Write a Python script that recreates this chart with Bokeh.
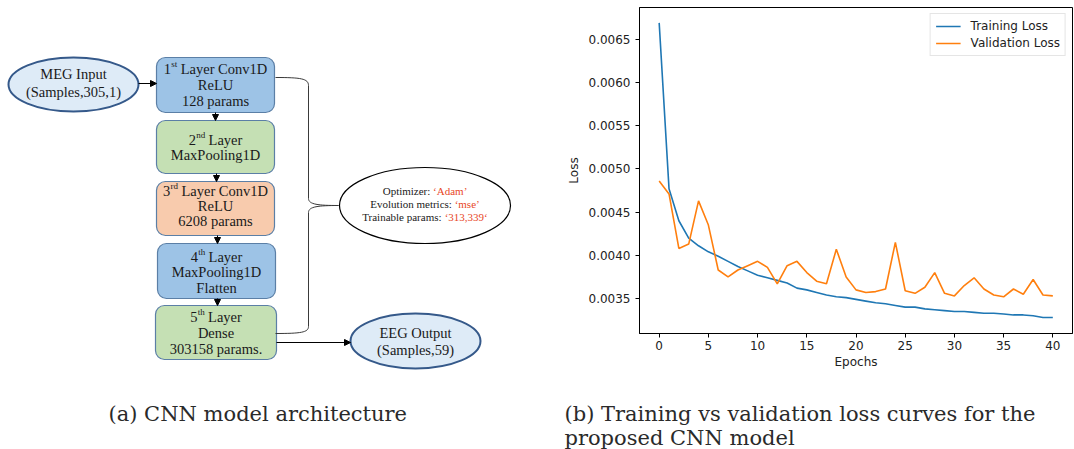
from bokeh.plotting import figure
from bokeh.models import (Range1d, Arrow, NormalHead, FixedTicker,
                          PrintfTickFormatter, Legend, LegendItem)
from bokeh.layouts import row, column
from bokeh.embed import file_html
from bokeh.resources import INLINE
from bokeh.core.properties import value

# ---------------- loss history ----------------
epochs = list(range(41))
train_loss = [0.00669, 0.00477, 0.00440, 0.00420, 0.00411, 0.00404, 0.00399, 0.00393,
              0.00387, 0.00382, 0.00377, 0.00374, 0.00371, 0.00368, 0.00362,
              0.00360, 0.00357, 0.00354, 0.00352, 0.00351, 0.00349, 0.00347, 0.00345,
              0.00344, 0.00342, 0.00340, 0.00340, 0.00338, 0.00337, 0.00336, 0.00335,
              0.00335, 0.00334, 0.00333, 0.00333, 0.00332, 0.00331, 0.00331, 0.00330,
              0.00328, 0.00328]
val_loss = [0.00486, 0.00471, 0.00408, 0.00413, 0.00463, 0.00435, 0.00383, 0.00375,
            0.00383, 0.00388, 0.00393, 0.00386, 0.00367, 0.00388, 0.00393, 0.00380,
            0.00370, 0.00367, 0.00407, 0.00375, 0.00360, 0.00357, 0.00358, 0.00361,
            0.00415, 0.00359, 0.00356, 0.00363, 0.00380, 0.00356, 0.00353, 0.00365,
            0.00374, 0.00361, 0.00354, 0.00352, 0.00361, 0.00355, 0.00372, 0.00354,
            0.00353]
y_ticks = [0.0035, 0.0040, 0.0045, 0.0050, 0.0055, 0.0060, 0.0065]
x_ticks = [0, 5, 10, 15, 20, 25, 30, 35, 40]

# ---------------- architecture content ----------------
layer_heads = [("1", "st", "Layer Conv1D"), ("2", "nd", "Layer"),
               ("3", "rd", "Layer Conv1D"), ("4", "th", "Layer"), ("5", "th", "Layer")]
layer_lines = [["ReLU", "128 params"], ["MaxPooling1D"], ["ReLU", "6208 params"],
               ["MaxPooling1D", "Flatten"], ["Dense", "303158 params."]]
layer_fills = ["#9dc3e6", "#c5e0b4", "#f8cbad", "#9dc3e6", "#c5e0b4"]
input_lines = ["MEG Input", "(Samples,305,1)"]
output_lines = ["EEG Output", "(Samples,59)"]
info_keys = ["Optimizer:", "Evolution metrics:", "Trainable params:"]
info_vals = ["\u2018Adam\u2019", "\u2018mse\u2019", "\u2018313,339\u2018"]
caption_a = "(a) CNN model architecture"
caption_b = ["(b) Training vs validation loss curves for the", "proposed CNN model"]

# Times-style advance widths (per 1000 em) for centring mixed runs of text
TIMES = {" ": 250, "'": 180, "\u2018": 333, "\u2019": 333, "(": 333, ")": 333, ",": 250,
         ".": 250, ":": 278, "A": 722, "C": 667, "D": 722, "E": 611, "L": 611, "M": 889,
         "O": 722, "P": 556, "R": 667, "T": 611, "U": 722, "a": 444, "b": 500, "c": 444,
         "d": 500, "e": 444, "f": 333, "g": 500, "h": 500, "i": 278, "l": 278, "m": 778,
         "n": 500, "o": 500, "p": 500, "r": 333, "s": 389, "t": 278, "u": 500, "v": 500,
         "y": 500, "z": 444}


def tw(s, size):
    return sum(TIMES.get(c, 500) for c in s) / 1000.0 * size


SERIF = value("Liberation Serif")
TXT = "#1a1a1a"
CAP_COLOR = "#2a2a2a"
TOP_H = 380          # height of the diagram / plot row
CAP_H = 449 - TOP_H  # height of the caption strip

d = figure(width=560, height=TOP_H, x_range=Range1d(0, 560), y_range=Range1d(TOP_H, 0),
           x_axis_type=None, y_axis_type=None, toolbar_location=None,
           output_backend="svg", min_border=0)
d.frame_align = False
d.outline_line_color = None
d.background_fill_color = "white"
d.border_fill_color = "white"

# layer boxes
box_l = [156, 156, 156, 157, 155]
box_r = [274, 274, 274, 275, 276]
box_t = [57, 120, 181, 243, 305]
box_b = [112, 173, 235, 298, 359]
d.quad(left=box_l, right=box_r, top=box_t, bottom=box_b, fill_color=layer_fills,
       line_color="#5b7fa6", line_width=1.2, border_radius=9)

head_y = [68, 139, 190, 256, 316]
line_ys = [[84, 100], [154], [205, 220], [271, 287], [332, 348]]
FS, SS = 14.5, 9.0
mx, my, mt, sx, sy, st = [], [], [], [], [], []
cx_all, cy_all, ct_all = [], [], []
for i, (a, sup, b) in enumerate(layer_heads):
    cx = (box_l[i] + box_r[i]) / 2
    gap = tw(" ", FS)
    w = tw(a, FS) + tw(sup, SS) + gap + tw(b, FS)
    x0 = cx - w / 2
    mx += [x0, x0 + tw(a, FS) + tw(sup, SS) + gap]
    my += [head_y[i], head_y[i]]
    mt += [a, b]
    sx.append(x0 + tw(a, FS) + 0.3)
    sy.append(head_y[i] - 4.5)
    st.append(sup)
    for ln, yy in zip(layer_lines[i], line_ys[i]):
        cx_all.append(cx)
        cy_all.append(yy)
        ct_all.append(ln)

d.text(x=mx, y=my, text=mt, text_font=SERIF, text_font_size="14.5px",
       text_align="left", text_baseline="middle", text_color=TXT)
d.text(x=sx, y=sy, text=st, text_font=SERIF, text_font_size="9px",
       text_align="left", text_baseline="middle", text_color=TXT)
d.text(x=cx_all, y=cy_all, text=ct_all, text_font=SERIF, text_font_size="14.5px",
       text_align="center", text_baseline="middle", text_color=TXT)

# input / output ellipses
d.ellipse(x=[73, 415], y=[84, 340.5], width=[130, 130], height=[54, 55],
          fill_color="#deebf7", line_color="#35598a", line_width=2)
d.text(x=[73, 73, 415, 415], y=[73, 91, 332, 349],
       text=input_lines + output_lines, text_font=SERIF, text_font_size="14.5px",
       text_align="center", text_baseline="middle", text_color=TXT)

# training settings ellipse
d.ellipse(x=[424.5], y=[205], width=[171], height=[76], fill_color="white",
          line_color="black", line_width=1.2)
IS = 11.0
info_y = [190, 203, 216]
kx, vx = [], []
for k, v in zip(info_keys, info_vals):
    gap = tw(" ", IS)
    w = tw(k, IS) + gap + tw(v, IS)
    x0 = 424.5 - w / 2
    kx.append(x0)
    vx.append(x0 + tw(k, IS) + gap)
d.text(x=kx, y=info_y, text=info_keys, text_font=SERIF, text_font_size="11px",
       text_align="left", text_baseline="middle", text_color=TXT)
d.text(x=vx, y=info_y, text=info_vals, text_font=SERIF, text_font_size="11px",
       text_align="left", text_baseline="middle", text_color="#e8471f")

# brace joining the layers to the settings ellipse
BR = "#3a3a3a"
d.bezier(x0=[275, 308, 338, 308], y0=[77, 198, 205, 326],
         x1=[308, 338, 308, 275], y1=[85, 205, 212, 333],
         cx0=[300, 308, 318, 308], cy0=[77, 204, 205, 332],
         cx1=[308, 318, 308, 300], cy1=[78, 205, 206, 333],
         line_color=BR, line_width=1)
d.segment(x0=[308, 308], y0=[85, 212], x1=[308, 308], y1=[198, 326],
          line_color=BR, line_width=1)

# flow arrows
arrows = [(138, 83, 156, 83), (215, 112, 215, 120), (216, 173, 216, 181),
          (217, 235, 217, 243), (217, 298, 217, 305), (276, 342, 350, 342)]
for x0, y0, x1, y1 in arrows:
    d.add_layout(Arrow(end=NormalHead(size=6, fill_color="black", line_color="black"),
                       x_start=x0, y_start=y0, x_end=x1, y_end=y1,
                       line_color="black", line_width=1))

# ---------------- loss curves ----------------
p = figure(width=514, height=TOP_H, x_range=Range1d(-2, 42),
           y_range=Range1d(0.003095, 0.006868), toolbar_location=None,
           output_backend="svg", min_border_left=79, min_border_right=2,
           min_border_top=7, min_border_bottom=TOP_H - 333)
p.frame_align = False
p.grid.visible = False
p.outline_line_color = "black"
p.outline_line_width = 1
p.background_fill_color = "white"
p.border_fill_color = "white"

r1 = p.line(epochs, train_loss, line_color="#1f77b4", line_width=1.6)
r2 = p.line(epochs, val_loss, line_color="#ff7f0e", line_width=1.6)

for ax in (p.xaxis[0], p.yaxis[0]):
    ax.major_tick_out = 4
    ax.major_tick_in = 0
    ax.minor_tick_out = 0
    ax.minor_tick_in = 0
    ax.axis_line_color = "black"
    ax.major_tick_line_color = "black"
    ax.major_label_text_font = "DejaVu Sans"
    ax.major_label_text_font_size = "12px"
    ax.major_label_text_color = "#222222"
    ax.axis_label_text_font = "DejaVu Sans"
    ax.axis_label_text_font_size = "12px"
    ax.axis_label_text_font_style = "normal"
    ax.axis_label_text_color = "#222222"

p.xaxis.ticker = FixedTicker(ticks=x_ticks)
p.yaxis.ticker = FixedTicker(ticks=y_ticks)
p.yaxis.formatter = PrintfTickFormatter(format="%.4f")
p.xaxis.axis_label = "Epochs"
p.yaxis.axis_label = "Loss"
p.xaxis.major_label_standoff = 3
p.xaxis.axis_label_standoff = 2
p.yaxis.major_label_standoff = 5
p.yaxis.axis_label_standoff = 5

legend = Legend(items=[LegendItem(label="Training Loss", renderers=[r1]),
                       LegendItem(label="Validation Loss", renderers=[r2])],
                location="top_right", margin=6, padding=5, spacing=3,
                label_standoff=10, glyph_width=25, glyph_height=14, label_height=14,
                label_text_font="DejaVu Sans", label_text_font_size="12px",
                label_text_color="#222222", border_line_color="#cccccc",
                background_fill_alpha=0.8)
p.add_layout(legend)

# ---------------- caption strip ----------------
c = figure(width=1074, height=CAP_H, x_range=Range1d(0, 1074), y_range=Range1d(CAP_H, 0),
           x_axis_type=None, y_axis_type=None, toolbar_location=None,
           output_backend="svg", min_border=0)
c.frame_align = False
c.outline_line_color = None
c.background_fill_color = "white"
c.border_fill_color = "white"
CAP = value("DejaVu Serif")
c.text(x=[108, 564, 564], y=[33, 33, 57], text=[caption_a] + caption_b, text_font=CAP,
       text_font_size="21px", text_align="left", text_baseline="alphabetic",
       text_color=CAP_COLOR)

layout = column(row(d, p), c)
open("out.html", "w").write(file_html(layout, INLINE))
